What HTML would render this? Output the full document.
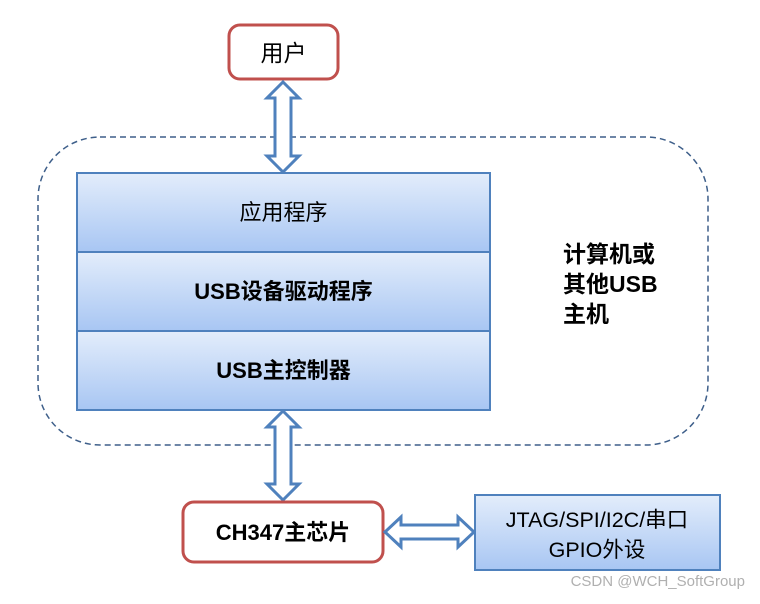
<!DOCTYPE html>
<html><head><meta charset="utf-8"><style>
html,body{margin:0;padding:0;background:#fff;}
text{font-family:"Liberation Sans","Noto Sans CJK SC",sans-serif;}
</style></head><body>
<svg width="760" height="599" viewBox="0 0 760 599" xmlns="http://www.w3.org/2000/svg">
<defs>
<linearGradient id="g" x1="0" y1="0" x2="0" y2="1">
<stop offset="0" stop-color="#e3edfb"/><stop offset="1" stop-color="#a8c6f3"/>
</linearGradient>
</defs>
<rect x="38" y="137" width="670" height="308" rx="62" fill="none" stroke="#3e5f8a" stroke-width="1.5" stroke-dasharray="6,4"/>
<rect x="229" y="25" width="109" height="54" rx="11" fill="#fff" stroke="#c0504d" stroke-width="3"/>
<text x="283.5" y="61" font-size="23" text-anchor="middle">用户</text>
<polygon points="283,82 299,98 291,98 291,156 299,156 283,172 267,156 275,156 275,98 267,98" fill="#fff" stroke="#4f81bd" stroke-width="3" stroke-linejoin="miter"/>
<rect x="77" y="173" width="413" height="79" fill="url(#g)" stroke="#4f81bd" stroke-width="2"/>
<rect x="77" y="252" width="413" height="79" fill="url(#g)" stroke="#4f81bd" stroke-width="2"/>
<rect x="77" y="331" width="413" height="79" fill="url(#g)" stroke="#4f81bd" stroke-width="2"/>
<text x="283.5" y="220" font-size="22" text-anchor="middle">应用程序</text>
<text x="283.5" y="299" font-size="22" font-weight="bold" text-anchor="middle">USB设备驱动程序</text>
<text x="283.5" y="378" font-size="22" font-weight="bold" text-anchor="middle">USB主控制器</text>
<text x="563" y="262" font-size="23" font-weight="bold">计算机或</text>
<text x="563" y="292" font-size="23" font-weight="bold">其他USB</text>
<text x="563" y="322" font-size="23" font-weight="bold">主机</text>
<polygon points="283,411 299,427 291,427 291,484 299,484 283,500 267,484 275,484 275,427 267,427" fill="#fff" stroke="#4f81bd" stroke-width="3"/>
<rect x="183" y="502" width="200" height="60" rx="11" fill="#fff" stroke="#c0504d" stroke-width="3"/>
<text x="283" y="540" font-size="22" font-weight="bold" text-anchor="middle">CH347主芯片</text>
<polygon points="385,532 401,517 401,525 458,525 458,517 474,532 458,547 458,539 401,539 401,547" fill="#fff" stroke="#4f81bd" stroke-width="3"/>
<rect x="475" y="495" width="245" height="75" fill="url(#g)" stroke="#4f81bd" stroke-width="2"/>
<text x="597" y="527" font-size="21.5" text-anchor="middle">JTAG/SPI/I2C/串口</text>
<text x="597" y="557" font-size="21.5" text-anchor="middle">GPIO外设</text>
<text x="745" y="586" font-size="15" fill="#b0b0b0" text-anchor="end">CSDN @WCH_SoftGroup</text>
</svg>
</body></html>
